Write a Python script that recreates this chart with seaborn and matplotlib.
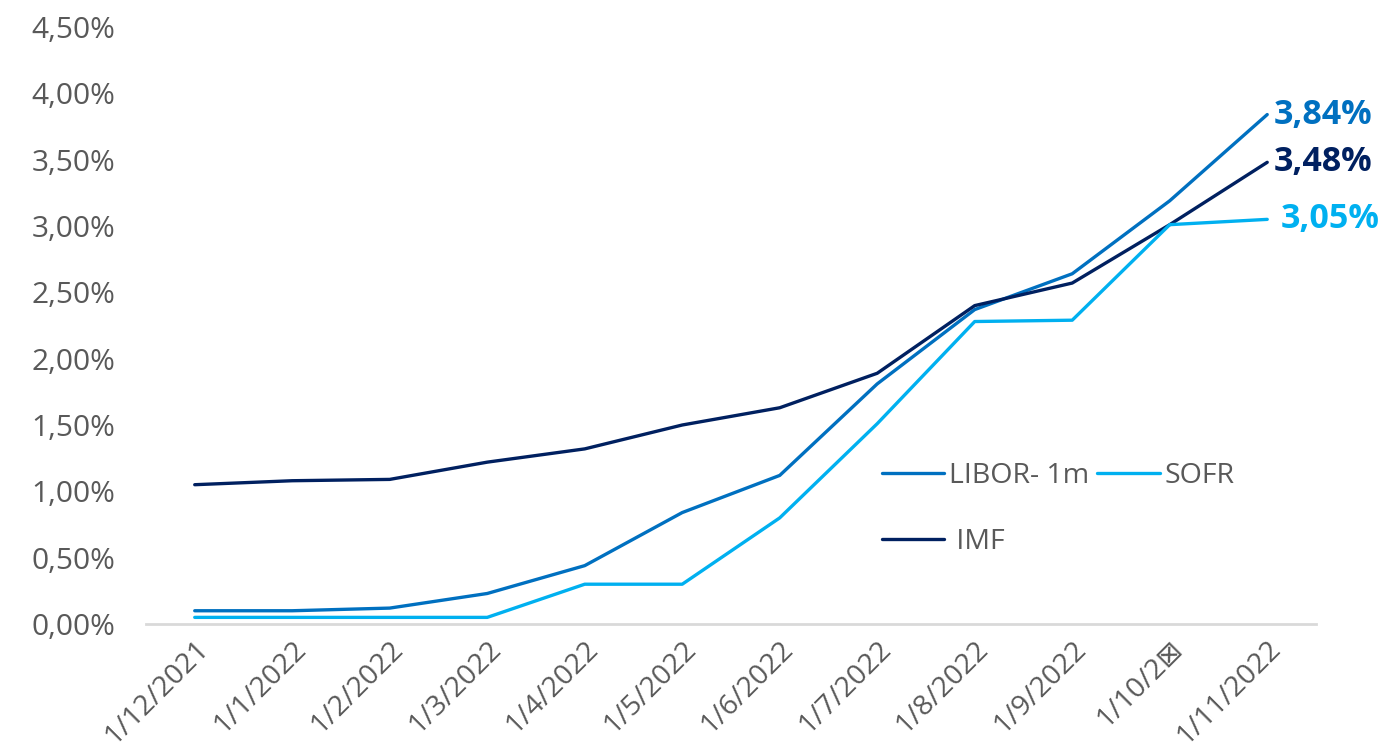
import matplotlib
matplotlib.use("Agg")
import matplotlib.pyplot as plt
import seaborn as sns
import pandas as pd
from matplotlib.ticker import FuncFormatter

# Monthly rates (%)
months = ["1/12/2021", "1/1/2022", "1/2/2022", "1/3/2022", "1/4/2022", "1/5/2022",
          "1/6/2022", "1/7/2022", "1/8/2022", "1/9/2022", "1/10/2\u22a0", "1/11/2022"]
libor_1m = [0.10, 0.10, 0.12, 0.23, 0.44, 0.84, 1.12, 1.81, 2.37, 2.64, 3.19, 3.84]
sofr = [0.05, 0.05, 0.05, 0.05, 0.30, 0.30, 0.80, 1.51, 2.28, 2.29, 3.01, 3.05]
imf = [1.05, 1.08, 1.09, 1.22, 1.32, 1.50, 1.63, 1.89, 2.40, 2.57, 3.01, 3.48]

series_names = ["LIBOR- 1m", " IMF", "SOFR"]
series_values = [libor_1m, imf, sofr]
colors = {"LIBOR- 1m": "#0070C0", " IMF": "#002060", "SOFR": "#00B0F0"}

rows = []
for name, vals in zip(series_names, series_values):
    for i, v in enumerate(vals):
        rows.append({"pos": i, "rate": v, "serie": name})
df = pd.DataFrame(rows)

sns.set_theme(style="white")
plt.rcParams["font.family"] = ["Open Sans", "DejaVu Sans"]
text_gray = "#595959"

fig = plt.figure(figsize=(13.93, 7.54), dpi=100)
ax = fig.add_axes([0.1048, 0.1724, 0.8399, 0.7918])

sns.lineplot(data=df, x="pos", y="rate", hue="serie", hue_order=series_names,
             palette=colors, linewidth=2.4, sort=False, ax=ax)

ax.set_xlim(-0.5, len(months) - 0.5)
ax.set_ylim(0, 4.5)
ax.set_yticks([i * 0.5 for i in range(10)])
ax.yaxis.set_major_formatter(FuncFormatter(lambda v, p: f"{v:.2f}%".replace(".", ",")))
ax.set_xticks(range(len(months)))
ax.set_xticklabels(months, rotation=45, ha="right", rotation_mode="anchor")
ax.tick_params(axis="y", length=0, labelsize=21.5, labelcolor=text_gray, pad=22)
ax.tick_params(axis="x", length=0, labelsize=20.5, labelcolor=text_gray, pad=8)
ax.set_xlabel("")
ax.set_ylabel("")

for side in ["left", "right", "top"]:
    ax.spines[side].set_visible(False)
ax.spines["bottom"].set_color("#D9D9D9")
ax.spines["bottom"].set_linewidth(2)

# End-of-series value labels
for name, vals in zip(series_names, series_values):
    last = len(vals) - 1
    dx = 0.07 if name != "SOFR" else 0.14
    ax.text(last + dx, vals[-1], f"{vals[-1]:.2f}%".replace(".", ","),
            color=colors[name], fontsize=24.5, fontweight="bold",
            va="center", ha="left", clip_on=False)

handles, labels = ax.get_legend_handles_labels()
leg = ax.legend(handles, labels, ncol=2, frameon=False, fontsize=20.5,
                loc="upper left", bbox_to_anchor=(0.607, 0.315),
                labelspacing=1.35, columnspacing=0.3, handlelength=2.2,
                handletextpad=0.15, labelcolor=text_gray)

fig.savefig("out.png", dpi=100)
